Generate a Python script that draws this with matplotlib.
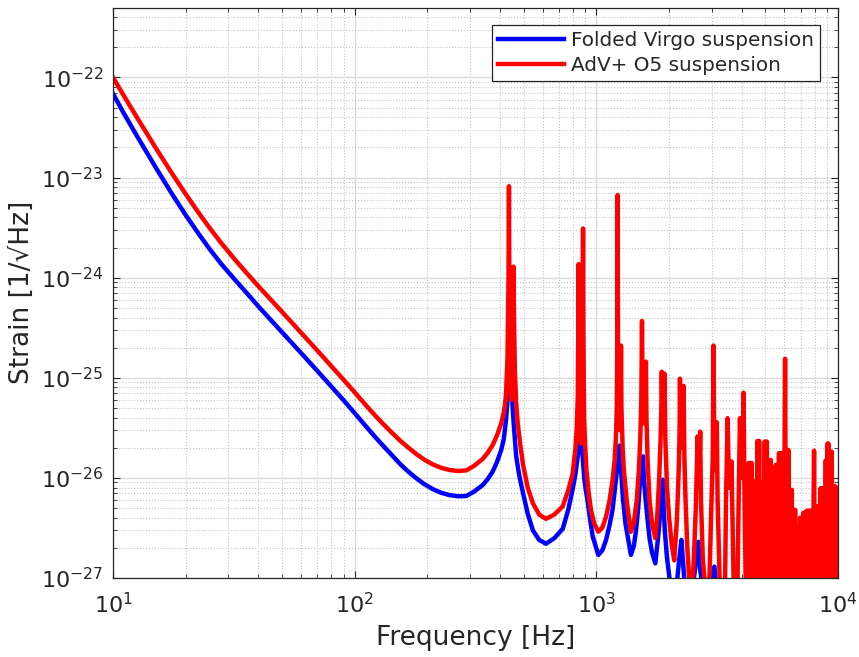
import numpy as np
import matplotlib
matplotlib.use("Agg")
import matplotlib.pyplot as plt
from matplotlib.ticker import LogLocator, NullFormatter, FixedLocator

# --- values (frequency in Hz, strain in 1/sqrt(Hz)) ---

# AdV+ O5 suspension (red)
red_freq = [
    # pendulum slope and bucket
    10, 11, 12.5, 15, 17.5, 20, 22.5, 25, 28, 32, 36, 40, 50, 60, 70, 80, 90, 100, 115, 122, 131,
    140, 155, 165, 180, 195, 211, 228, 247, 268, 290, 312, 339, 355, 372, 388, 404, 414, 419, 423,
    # violin modes 1-2
    429, 433, 435, 437, 440, 444, 449, 452, 454, 456, 460, 466, 473, 485, 497, 520, 546, 580, 619,
    670, 726, 765, 798, 820, 830, 838, 842, 845, 848, 855, 863, 872, 877, 881, 884, 890, 900, 910,
    930, 950, 980, 1019, 1060, 1097, 1135, 1167, 1190, 1205, 1215, 1221,
    # violin modes 3-6
    1225, 1229, 1240, 1250, 1260, 1265, 1270, 1285, 1300, 1340, 1390, 1430, 1470, 1500, 1520, 1535,
    1545, 1552, 1570, 1590, 1604, 1612, 1630, 1660, 1700, 1754, 1790, 1820, 1845, 1858,
    1866, 1880, 1900, 1914, 1930, 1960, 2000, 2050, 2100, 2150, 2180, 2200, 2210,
    2218, 2235, 2270, 2285, 2296, 2315, 2340, 2380, 2420, 2470, 2530, 2580, 2605,
    # higher modes
    2625, 2650, 2670, 2690, 2710, 2760, 2850, 2931, 2990, 3030, 3055, 3075, 3110, 3152, 3175,
    3240, 3330, 3410, 3440, 3493, 3540, 3600, 3624, 3660, 3700, 3765, 3840, 3880, 3930, 3975,
    4030, 4065, 4100, 4150, 4200, 4246,
    # dense mode forest
    4270, 4300, 4326, 4355, 4390, 4424, 4460, 4495, 4530, 4560, 4600, 4640, 4680, 4716, 4760,
    4800, 4840, 4880, 4920, 4977, 5020, 5075, 5120, 5170, 5220, 5272, 5320, 5370, 5410, 5441,
    5480, 5530, 5570, 5616, 5650, 5700, 5730, 5759, 5800, 5840, 5880, 5960, 6040, 6100, 6140,
    6190, 6235, 6280, 6330, 6380, 6439, 6490, 6545, 6590, 6645, 6700, 6750, 6800, 6860, 6910,
    6970, 7030, 7086, 7140, 7200, 7260, 7313, 7370, 7430, 7480, 7540, 7600, 7660, 7720, 7760,
    7860, 7960, 8030, 8100, 8170, 8250, 8300, 8345, 8400, 8480, 8560, 8650, 8700, 8750, 8820,
    8900, 8980, 9050, 9090, 9120, 9200, 9270, 9350, 9420, 9490, 9560, 9630, 9700, 9740, 9780,
    9850, 9920, 10000]
red_strain = [
    1.0e-22, 6.78e-23, 4.07e-23, 1.99e-23, 1.11e-23, 6.82e-24, 4.52e-24, 3.18e-24, 2.23e-24, 1.51e-24,
    1.09e-24, 8.2e-25, 4.57e-25, 2.82e-25, 1.875e-25, 1.31e-25, 9.55e-26, 7.16e-26, 4.86e-26, 4.16e-26,
    3.47e-26, 2.95e-26, 2.33e-26, 2.05e-26, 1.73e-26, 1.51e-26, 1.36e-26, 1.26e-26, 1.2e-26, 1.17e-26,
    1.19e-26, 1.32e-26, 1.55e-26, 1.78e-26, 2.12e-26, 2.65e-26, 3.5e-26, 4.5e-26, 5.4e-26, 6.9e-26,
    1.6e-25, 9.0e-25, 8.2e-24, 5.0e-25, 9.0e-26, 6.0e-26, 1.6e-25, 5.5e-25, 1.29e-24, 4.5e-25,
    1.2e-25, 5.5e-26, 3.5e-26, 2.1e-26, 1.37e-26, 8.0e-27, 5.6e-27, 4.3e-27, 3.9e-27,
    4.3e-27, 5.2e-27, 7.5e-27, 1.1e-26, 2.0e-26, 3.2e-26, 6.5e-26, 3.0e-25, 1.37e-24, 2.5e-25,
    5.0e-26, 2.2e-26, 6.0e-26, 3.0e-25, 3.1e-24, 3.0e-25, 4.0e-26, 2.0e-26, 1.2e-26,
    7.0e-27, 4.8e-27, 3.5e-27, 2.9e-27, 3.2e-27, 4.1e-27, 6.0e-27, 9.4e-27, 1.5e-26, 2.5e-26,
    5.0e-26, 2.0e-25,
    6.7e-24, 2.0e-25, 4.0e-26, 3.0e-26, 6.0e-26, 2.1e-25, 5.0e-26, 2.0e-26, 1.2e-26, 5.5e-27,
    2.9e-27, 3.6e-27, 6.0e-27, 1.2e-26, 2.5e-26, 6.0e-26,
    3.7e-25, 1.0e-25, 3.5e-26, 5.0e-26, 1.45e-25, 4.0e-26, 1.5e-26, 6.0e-27, 3.5e-27, 2.5e-27,
    4.5e-27, 1.0e-26, 2.5e-26, 5.0e-26,
    1.15e-25, 3.5e-26, 4.5e-26, 1.1e-25, 2.5e-26, 8.0e-27, 4.0e-27, 2.2e-27, 1.5e-27, 3.5e-27,
    8.0e-27, 1.6e-26, 3.0e-26,
    9.8e-26, 2.5e-26, 2.0e-26, 3.0e-26, 8.3e-26, 1.5e-26, 6.0e-27, 2.0e-27, 1.0e-27, 6.0e-28,
    1.5e-27, 5.0e-27, 1.2e-26,
    2.6e-26, 8.0e-27, 1.2e-26, 2.9e-26, 6.0e-27, 1.5e-27, 6.0e-28, 8.0e-28, 5.0e-27, 1.5e-26,
    2.1e-25, 2.0e-26, 1.2e-26, 3.6e-26, 6.0e-27,
    9.0e-28, 5.0e-28, 9.0e-28, 6.0e-27, 3.95e-26, 8.0e-27, 8.0e-27, 1.46e-26, 4.0e-27, 9.0e-28,
    5.0e-28, 9.0e-28, 6.0e-27, 3.95e-26, 1.0e-26,
    1.5e-26, 7.1e-26, 8.0e-27, 9.0e-28, 5.0e-28, 9.0e-28,
    1.41e-26, 6e-28, 1.41e-26, 6e-28, 1.41e-26, 6e-28, 9.2e-27, 6e-28, 9.2e-27, 6e-28,
    6e-28, 2.34e-26, 6e-28, 2.34e-26, 6e-28,
    8.9e-27, 6e-28, 8.9e-27, 6e-28, 2.31e-26, 6e-28, 2.31e-26, 6e-28, 1.51e-26, 6e-28,
    1.51e-26, 6e-28, 1.25e-26, 6e-28, 1.25e-26,
    6e-28, 1.35e-26, 6e-28, 1.35e-26, 6e-28, 1.77e-26, 6e-28, 1.77e-26, 6e-28, 6e-28,
    1.77e-26, 6e-28, 1.55e-25, 6e-28, 1.9e-26,
    6e-28, 1.9e-26, 6e-28, 7.6e-27, 6e-28, 7.6e-27, 6e-28, 4.8e-27, 6e-28, 4.8e-27,
    6e-28, 3.2e-27, 6e-28, 3.2e-27, 6e-28,
    4.0e-27, 6e-28, 4.0e-27, 6e-28, 4.5e-27, 6e-28, 4.5e-27, 6e-28, 4.7e-27, 6e-28,
    4.7e-27, 6e-28, 4.7e-27, 6e-28, 4.7e-27,
    6e-28, 1.87e-26, 6e-28, 5.2e-27, 6e-28, 5.2e-27, 6e-28, 5.2e-27, 6e-28, 7.9e-27,
    6e-28, 7.9e-27, 6e-28, 7.9e-27, 6e-28,
    1.5e-26, 6e-28, 2.2e-26, 6e-28, 2.2e-26, 6e-28, 1.83e-26, 6e-28, 1.83e-26, 6e-28,
    8.2e-27, 6e-28, 8.2e-27, 6e-28, 8.2e-27,
    6e-28, 2.9e-27, 2.0e-27]

# Folded Virgo suspension (blue)
blue_freq = [
    10, 11, 12.5, 15, 17.5, 20, 22.5, 25, 28, 32, 36, 40, 50, 60, 70, 80, 90, 100, 115, 122, 131,
    140, 155, 165, 180, 195, 211, 228, 247, 268, 290, 312, 339, 355, 372, 388, 404, 414, 423,
    432, 438, 442, 446, 455, 466, 480, 497, 520, 546, 580, 619, 670, 726, 765, 798, 820, 837,
    850, 858, 864, 870, 880, 891, 905, 920, 940, 966, 1019, 1060, 1097, 1135, 1167, 1195, 1215,
    1230, 1245, 1252, 1258, 1275, 1290, 1320, 1390, 1430, 1460, 1490, 1510, 1535, 1560, 1572,
    1600, 1630, 1660, 1700, 1754, 1800, 1830, 1860, 1880, 1900, 1920, 1960, 2030, 2120,
    2200, 2250, 2310, 2450, 2640, 2690, 2850, 3080, 3200, 4800, 4990, 5150, 5400, 5600, 10000]
blue_strain = [
    6.9e-23, 4.53e-23, 2.66e-23, 1.27e-23, 6.93e-24, 4.21e-24, 2.79e-24, 1.96e-24, 1.38e-24, 9.5e-25,
    6.9e-25, 5.15e-25, 2.86e-25, 1.77e-25, 1.175e-25, 8.2e-26, 5.96e-26, 4.44e-26, 2.99e-26, 2.54e-26,
    2.1e-26, 1.77e-26, 1.36e-26, 1.18e-26, 9.9e-27, 8.6e-27, 7.7e-27, 7.1e-27, 6.73e-27, 6.55e-27,
    6.6e-27, 7.3e-27, 8.5e-27, 9.7e-27, 1.15e-26, 1.44e-26, 1.9e-26, 2.44e-26, 3.8e-26,
    7.5e-26, 1.05e-25, 6.3e-26, 7.5e-26, 3.5e-26, 1.64e-26, 1.05e-26, 7.1e-27, 4.4e-27, 3.0e-27,
    2.4e-27, 2.2e-27, 2.5e-27, 3.1e-27, 4.8e-27, 7.7e-27, 1.1e-26, 1.64e-26,
    2.3e-26, 2.9e-26, 1.8e-26, 2.2e-26, 1.5e-26, 1.0e-26, 7.5e-27, 5.9e-27, 4.0e-27, 2.6e-27,
    1.7e-27, 1.9e-27, 2.4e-27, 3.4e-27, 4.8e-27, 8.0e-27, 1.15e-26,
    1.5e-26, 2.1e-26, 1.26e-26, 1.5e-26, 9.0e-27, 6.0e-27, 3.5e-27, 1.7e-27, 2.1e-27, 3.0e-27,
    5.0e-27, 8.0e-27, 1.2e-26, 1.64e-26, 1.0e-26,
    6.0e-27, 3.8e-27, 2.5e-27, 1.8e-27, 1.4e-27, 2.5e-27, 4.0e-27, 7.0e-27, 9.6e-27, 5.0e-27,
    3.0e-27, 1.6e-27, 8.0e-28, 6.0e-28,
    1.5e-27, 2.4e-27, 1.0e-27, 5.0e-28, 2.3e-27, 1.2e-27, 5.0e-28, 1.3e-27, 5.0e-28, 5.0e-28,
    1.05e-27, 5.0e-28, 1.0e-27, 5.0e-28, 5.0e-28]

labels = ["Folded Virgo suspension", "AdV+ O5 suspension"]

txt = "#262626"
fig = plt.figure(figsize=(8.59, 6.57), dpi=100)
ax = fig.add_axes([113 / 859, 79 / 657, 725 / 859, 570.5 / 657])

ax.loglog(blue_freq, blue_strain, color="#0000ff", lw=3.2, label=labels[0])
ax.loglog(red_freq, red_strain, color="#ff0000", lw=3.2, label=labels[1])

ax.set_xlim(10, 1e4)
ax.set_ylim(1e-27, 5e-22)

ax.xaxis.set_major_locator(FixedLocator([1e1, 1e2, 1e3, 1e4]))
ax.yaxis.set_major_locator(FixedLocator([1e-27, 1e-26, 1e-25, 1e-24, 1e-23, 1e-22]))
ax.yaxis.set_minor_locator(LogLocator(base=10, subs=np.arange(2, 10), numticks=100))
ax.xaxis.set_minor_locator(LogLocator(base=10, subs=np.arange(2, 10), numticks=100))
ax.yaxis.set_minor_formatter(NullFormatter())
ax.xaxis.set_minor_formatter(NullFormatter())

ax.grid(True, which="major", color="#dcdcdc", lw=1.0, ls="-")
ax.grid(True, which="minor", color="#c4c4c4", lw=0.8, ls=":")
ax.set_axisbelow(True)

ax.tick_params(which="both", direction="in", top=True, right=True, colors=txt, labelsize=16)
ax.tick_params(axis="y", pad=7)
ax.tick_params(axis="x", pad=10)
ax.tick_params(which="major", length=5, width=0.8)
ax.tick_params(which="minor", length=3, width=0.6)
for s in ax.spines.values():
    s.set_color(txt)
    s.set_linewidth(0.9)

ax.set_xlabel("Frequency [Hz]", fontsize=19, color=txt, labelpad=6)
ax.set_ylabel("Strain [1/√Hz]", fontsize=19, color=txt, labelpad=4)

leg = ax.legend(loc="upper right", bbox_to_anchor=((820 - 113) / 725, (578 - 25) / 570.5),
                borderaxespad=0, fontsize=14.4, handlelength=3.3, handletextpad=0.35,
                fancybox=False, framealpha=1, edgecolor=txt, borderpad=0.3, labelspacing=0.3)
leg.get_frame().set_linewidth(0.9)
for t in leg.get_texts():
    t.set_color(txt)

fig.savefig("out.png", dpi=100)
